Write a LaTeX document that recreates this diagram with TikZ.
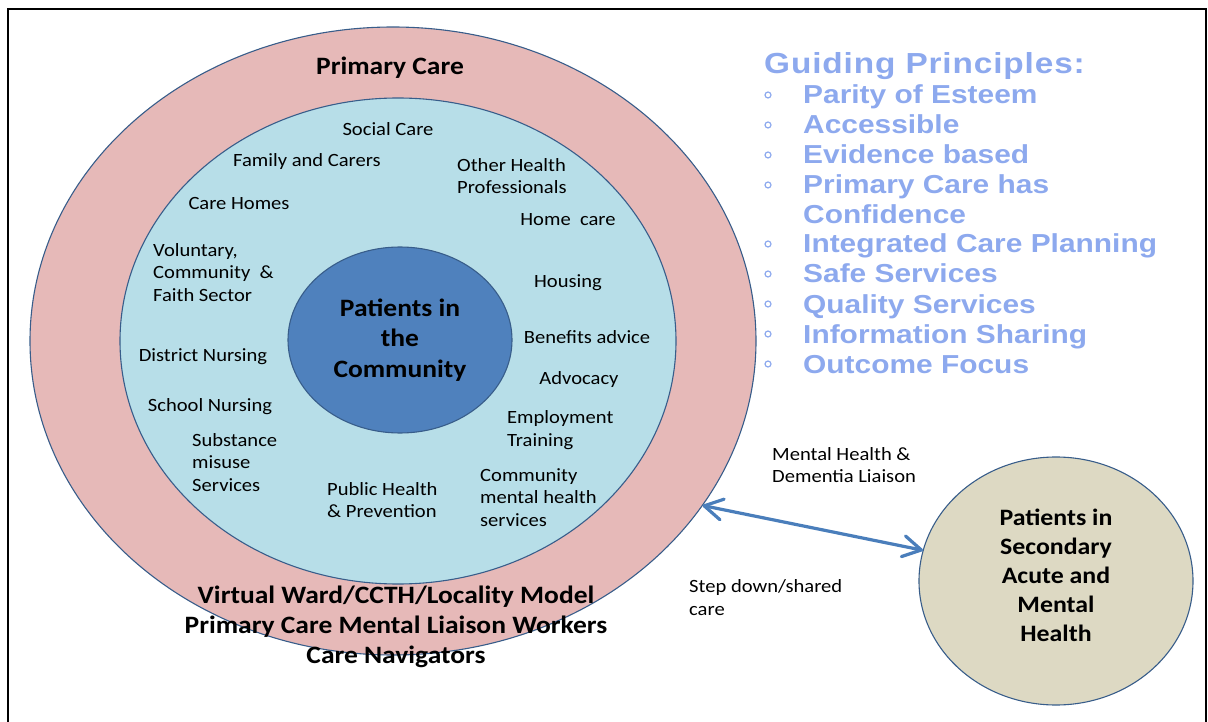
\documentclass[tikz,border=0pt]{standalone}
\usepackage{fontspec}
\setmainfont{Carlito}[FakeStretch=1.1]
\newfontfamily\gpfont{Liberation Sans}[FakeStretch=1.15]
\usetikzlibrary{shapes.geometric,calc}
\definecolor{pinkring}{HTML}{E6B9B8}
\definecolor{lightring}{HTML}{B7DEE8}
\definecolor{corefill}{HTML}{4F81BD}
\definecolor{secfill}{HTML}{DDD9C3}
\definecolor{edgeblue}{HTML}{385D8A}
\definecolor{arrowblue}{HTML}{4A7EBB}
\definecolor{gpblue}{HTML}{8DA9EE}
\begin{document}
\begin{tikzpicture}[x=1pt,y=-1pt,
  ring/.style={ellipse, draw=edgeblue, line width=1.1pt, inner sep=0pt, outer sep=0pt},
  lbl/.style={font=\fontsize{18.7}{22.5}\selectfont, inner sep=0pt, align=left},
  lblc/.style={font=\fontsize{18.7}{22.5}\selectfont, inner sep=0pt, align=center},
  bigb/.style={font=\fontsize{25}{30.5}\selectfont\bfseries, inner sep=0pt, align=center},
  botb/.style={font=\fontsize{25}{30}\selectfont\bfseries, inner sep=0pt, align=center},
  secb/.style={font=\fontsize{23.5}{29}\selectfont\bfseries, inner sep=0pt, align=center},
  gptitle/.style={font=\gpfont\bfseries\addfontfeatures{LetterSpace=3}\fontsize{29}{30}\selectfont, text=gpblue, inner sep=0pt, anchor=base west},
  gpitem/.style={font=\gpfont\bfseries\fontsize{26}{30}\selectfont, text=gpblue, inner sep=0pt, anchor=base west},
  gpdot/.style={circle, draw=gpblue, line width=1.2pt, minimum size=6pt, inner sep=0pt},
  linkline/.style={draw=arrowblue, line width=3.2pt, line cap=round, line join=round}
]
\useasboundingbox (0,0) rectangle (1208,722);
% frame
\draw[line width=2pt] (8,723) -- (8,9) -- (1206,9) -- (1206,723);

% circles
\node[ring, fill=pinkring, minimum width=726pt, minimum height=628pt] (outer) at (393,341) {};
\node[ring, fill=lightring, minimum width=556pt, minimum height=486pt] (inner) at (398,341) {};
\node[ring, fill=corefill, minimum width=224pt, minimum height=186pt] (core) at (400,340) {};
\node[ring, fill=secfill, minimum width=274pt, minimum height=248pt] (sec) at (1056,581) {};

% arrow
\coordinate (la) at ($(outer.-28.4)!2pt!(sec.167)$);
\coordinate (rb) at ($(sec.167)!2pt!(outer.-28.4)$);
\draw[linkline] (la) -- (rb);
\draw[linkline] ($(la)!21pt!30:(rb)$) -- (la) -- ($(la)!21pt!-30:(rb)$);
\draw[linkline] ($(rb)!21pt!30:(la)$) -- (rb) -- ($(rb)!21pt!-30:(la)$);

% titles
\node[bigb] (pc) at (390,68) {Primary Care};
\node[bigb] (pic) at (400,340) {Patients in\\the\\Community};
\node[botb] (bottom) at (396,627) {Virtual Ward/CCTH/Locality Model\\Primary Care Mental Liaison Workers\\Care Navigators};
\node[secb] (sectext) at (1056,575) {Patients in\\Secondary\\Acute and\\Mental\\Health};

% inner labels
\node[lblc] (social) at (388,129) {Social Care};
\node[lblc] (family) at (307,162) {Family and Carers};
\node[lblc] (homes) at (239,204) {Care Homes};
\node[lbl, anchor=west] (vol) at (153,272.5) {Voluntary,\\Community \ \&\\Faith Sector};
\node[lblc] (district) at (203,357) {District Nursing};
\node[lblc] (school) at (210,407) {School Nursing};
\node[lbl, anchor=west] (subst) at (192,462.5) {Substance\\misuse\\Services};
\node[lbl, anchor=west] (public) at (327,500) {Public Health\\\& Prevention};
\node[lbl, anchor=west] (other) at (457,176) {Other Health\\Professionals};
\node[lblc] (homecare) at (568,220) {Home \ care};
\node[lblc] (housing) at (568,283) {Housing};
\node[lblc] (benefits) at (587,337) {Benefits advice};
\node[lblc] (advocacy) at (579,380) {Advocacy};
\node[lbl, anchor=west] (employ) at (507,430) {Employment\\Training};
\node[lbl, anchor=west] (cmhs) at (480,497.5) {Community\\mental health\\services};

% link labels
\node[lbl, anchor=west] (mhdl) at (772,465) {Mental Health \&\\Dementia Liaison};
\node[lbl, anchor=west] (step) at (689,597.5) {Step down/shared\\care};

% guiding principles
\node[gptitle] (gp) at (764,73.5) {Guiding Principles:};
\foreach \t/\b [count=\i] in {Parity of Esteem/104, Accessible/134, Evidence based/164, Primary Care has/194, Integrated Care Planning/253, Safe Services/283, Quality Services/313, Information Sharing/343, Outcome Focus/373} {
  \node[gpitem] (gpi\i) at (803,\b) {\t};
  \node[gpdot] (gpd\i) at (768,\b-9) {};
}
\node[gpitem] (gpconf) at (803,224) {Confidence};
\end{tikzpicture}
\end{document}
